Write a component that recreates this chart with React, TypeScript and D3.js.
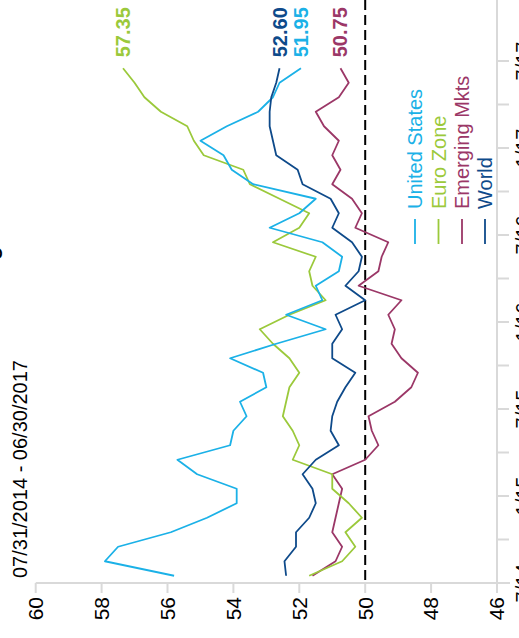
import React from 'react';
import * as d3 from 'd3';

const seriesNames = ['United States', 'Euro Zone', 'Emerging Mkts', 'World'];
const seriesColors = ['#1BB1E7', '#9BC93B', '#9B3767', '#0E4A8A'];

const usValues = [55.8, 57.9, 57.5, 55.9, 54.8, 53.9, 53.9, 55.1, 55.7, 54.1, 54.0, 53.6, 53.8, 53.0, 53.1, 54.1, 52.7, 51.2, 52.4, 51.3, 51.5, 50.8, 50.7, 51.3, 52.9, 52.0, 51.5, 53.4, 54.05, 54.3, 55.0, 54.2, 53.25, 52.8, 52.6, 51.95];
const euroValues = [51.7, 50.7, 50.3, 50.6, 50.1, 50.5, 51.0, 51.0, 52.2, 52.0, 52.2, 52.5, 52.4, 52.3, 52.0, 52.3, 52.8, 53.2, 52.3, 51.2, 51.6, 51.7, 51.5, 52.8, 52.0, 51.7, 52.6, 53.5, 53.7, 54.9, 55.2, 55.4, 56.2, 56.7, 57.0, 57.35];
const emValues = [51.6, 50.9, 50.7, 51.0, 50.9, 50.8, 50.7, 51.0, 50.0, 49.6, 49.8, 49.9, 49.1, 48.6, 48.4, 48.9, 49.2, 49.1, 49.3, 48.9, 50.2, 49.6, 49.5, 49.3, 50.3, 50.1, 50.4, 51.0, 50.75, 51.0, 50.8, 51.25, 51.5, 50.8, 50.5, 50.75];
const worldValues = [52.4, 52.45, 52.1, 52.1, 51.7, 51.5, 51.6, 51.9, 51.5, 50.8, 51.05, 51.0, 50.85, 50.6, 50.3, 51.0, 51.0, 50.7, 50.9, 50.0, 50.6, 50.2, 50.1, 50.4, 51.0, 50.8, 51.05, 51.9, 52.05, 52.7, 52.8, 52.9, 52.9, 52.85, 52.7, 52.6];

const lastLabels = ['51.95', '57.35', '50.75', '52.60'];
const valueTicks = [60, 58, 56, 54, 52, 50, 48, 46];
const timeTickLabels = ['7/14', '1/15', '7/15', '1/16', '7/16', '1/17', '7/17'];
const titleText = 'Manufacturing PMI';
const subtitleText = '07/31/2014 - 06/30/2017';
const referenceValue = 50;

const W = 519;
const H = 638;
const FONT = '"Liberation Sans", Arial, Helvetica, sans-serif';
const AXIS = '#d9d9d9';

export default function App() {
  const allSeries = [usValues, euroValues, emValues, worldValues];
  const n = usValues.length;
  const xV = d3.scaleLinear().domain([60, 46]).range([35.7, 497]);
  const yT = d3.scaleLinear().domain([-0.5, n - 0.5]).range([583, 61]);
  const line = d3
    .line<number>()
    .x((d) => xV(d))
    .y((_d, i) => yT(i));
  const timeTicks = d3.range(13).map((k) => -0.5 + 3 * k);
  const drawOrder = [2, 1, 0, 3];
  const legendX = [415, 438.5, 462, 485];

  return (
    <svg
      width={W}
      height={H}
      style={{ position: 'absolute', left: 0, top: 0, background: '#fff' }}
      fontFamily={FONT}
    >
      {/* title (mostly off-canvas) */}
      <text
        transform={`translate(-3,398) rotate(-90)`}
        fontSize={22}
        fontWeight="bold"
        fill="#000"
      >
        {titleText}
      </text>
      <text transform={`translate(27,578) rotate(-90)`} fontSize={20} fill="#000">
        {subtitleText}
      </text>

      {/* value axis (bottom) */}
      <line x1={xV(60)} x2={510} y1={583} y2={583} stroke={AXIS} strokeWidth={2} />
      {valueTicks.map((v) => (
        <g key={v}>
          <line x1={xV(v)} x2={xV(v)} y1={583} y2={593} stroke={AXIS} strokeWidth={2} />
          <text
            transform={`translate(${xV(v)},597) rotate(-90)`}
            textAnchor="end"
            dy="0.35em"
            fontSize={21}
            fill="#000"
          >
            {v}
          </text>
        </g>
      ))}

      {/* time axis (right) */}
      <line x1={xV(46)} x2={xV(46)} y1={0} y2={583} stroke={AXIS} strokeWidth={2} />
      {timeTicks.map((t, k) => (
        <g key={k}>
          <line x1={xV(46)} x2={509} y1={yT(t)} y2={yT(t)} stroke={AXIS} strokeWidth={2} />
          {k % 2 === 0 && (
            <text
              transform={`translate(530,${yT(t)}) rotate(-90)`}
              textAnchor="middle"
              fontSize={20}
              fill="#000"
            >
              {timeTickLabels[k / 2]}
            </text>
          )}
        </g>
      ))}

      {/* reference line at 50 */}
      <line
        x1={xV(referenceValue)}
        x2={xV(referenceValue)}
        y1={0}
        y2={583}
        stroke="#000"
        strokeWidth={2}
        strokeDasharray="10,5"
      />

      {/* series */}
      {drawOrder.map((s) => (
        <path
          key={s}
          d={line(allSeries[s]) || ''}
          fill="none"
          stroke={seriesColors[s]}
          strokeWidth={1.8}
          strokeLinejoin="round"
        />
      ))}

      {/* end value labels */}
      {allSeries.map((vals, s) => (
        <text
          key={s}
          transform={`translate(${xV(vals[n - 1])},${yT(n - 1) - 11}) rotate(-90)`}
          dy="0.35em"
          fontSize={20}
          fontWeight="bold"
          fill={seriesColors[s]}
        >
          {lastLabels[s]}
        </text>
      ))}

      {/* legend */}
      {seriesNames.map((name, s) => (
        <g key={name}>
          <line
            x1={legendX[s]}
            x2={legendX[s]}
            y1={219}
            y2={244}
            stroke={seriesColors[s]}
            strokeWidth={1.8}
          />
          <text
            transform={`translate(${legendX[s]},209) rotate(-90)`}
            dy="0.35em"
            fontSize={20}
            fill={seriesColors[s]}
          >
            {name}
          </text>
        </g>
      ))}
    </svg>
  );
}
